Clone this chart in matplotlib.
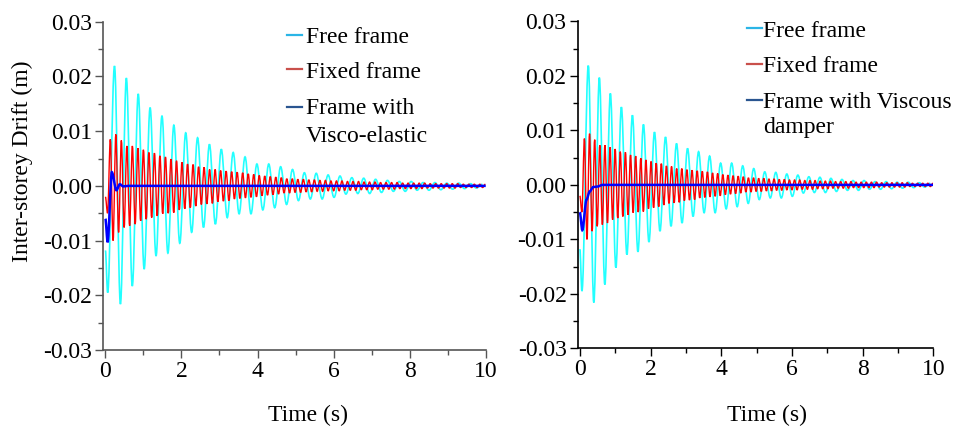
import numpy as np
import matplotlib.pyplot as plt
from matplotlib.path import Path
from matplotlib.patches import PathPatch
from matplotlib.ticker import MultipleLocator, FormatStrFormatter

plt.rcParams['font.family'] = ['Liberation Serif', 'DejaVu Serif']
plt.rcParams['font.size'] = 17
plt.rcParams['axes.unicode_minus'] = False

# ---- response extrema (s, m) ----
# free frame: lead-in samples, then alternating peaks / troughs
free_lead_t = [0.0, 0.06]
free_lead_v = [-0.0118, -0.0195]
free_t0, free_half = 0.24, 0.156
free_peaks = [0.0219, 0.0197, 0.0168, 0.0143, 0.0128, 0.0111, 0.0097, 0.0088,
              0.0076, 0.0067, 0.0061, 0.0053, 0.0040, 0.0040, 0.0035, 0.0030,
              0.0024, 0.0023, 0.0020, 0.0018, 0.0015, 0.0014, 0.0012, 0.0010,
              0.0008, 0.0008, 0.0006, 0.0006, 0.0005, 0.0005, 0.0004, 0.0003]
free_troughs = [-0.0216, -0.0183, -0.0152, -0.0128, -0.0123, -0.0105, -0.0085,
                -0.0076, -0.0070, -0.0058, -0.0051, -0.0051, -0.0044, -0.0040,
                -0.0034, -0.0027, -0.0024, -0.0024, -0.0021, -0.0015, -0.0014,
                -0.0014, -0.0012, -0.0010, -0.0010, -0.0008, -0.0008, -0.0007,
                -0.0006, -0.0005, -0.0004]

# fixed frame
fixed_lead_t = [0.0, 0.058]
fixed_lead_v = [-0.0020, -0.0050]
fixed_t0, fixed_half = 0.13, 0.0725
fixed_peaks = [0.0085, 0.0094, 0.0083, 0.0073, 0.0073, 0.0069, 0.0066, 0.0061,
               0.0060, 0.0055, 0.0053, 0.0049, 0.0046, 0.0043, 0.0040, 0.0039,
               0.0035, 0.0034, 0.0030, 0.0030, 0.0028, 0.0027, 0.0026, 0.0025,
               0.0024, 0.0022, 0.0021, 0.0019, 0.0018, 0.0017, 0.0016, 0.0015,
               0.0013,
               0.0013, 0.0012, 0.0012, 0.0011, 0.0011, 0.0010, 0.0010, 0.0009,
               0.0009, 0.0009, 0.0008, 0.0008, 0.0008, 0.0007, 0.0007, 0.0007,
               0.0006, 0.0006, 0.0006, 0.0006, 0.0005, 0.0005, 0.0005, 0.0005,
               0.0005, 0.0004, 0.0004, 0.0004, 0.0004, 0.0004, 0.0004, 0.0003,
               0.0003, 0.0003, 0.0003, 0.0003]
fixed_troughs = [-0.0100, -0.0085, -0.0076, -0.0073, -0.0070, -0.0064, -0.0061,
                 -0.0058, -0.0055, -0.0051, -0.0050, -0.0049, -0.0044, -0.0042,
                 -0.0040, -0.0037, -0.0034, -0.0033, -0.0032, -0.0029, -0.0028,
                 -0.0027, -0.0024, -0.0023, -0.0022, -0.0021, -0.0020, -0.0018,
                 -0.0017, -0.0016, -0.0015, -0.0013,
                 -0.0013, -0.0012, -0.0012, -0.0011, -0.0011, -0.0010, -0.0010,
                 -0.0009, -0.0009, -0.0009, -0.0008, -0.0008, -0.0008, -0.0007,
                 -0.0007, -0.0007, -0.0006, -0.0006, -0.0006, -0.0006, -0.0005,
                 -0.0005, -0.0005, -0.0005, -0.0005, -0.0004, -0.0004, -0.0004,
                 -0.0004, -0.0004, -0.0004, -0.0003, -0.0003, -0.0003, -0.0003,
                 -0.0003]

# damped frames
ve_t = [0.0, 0.06, 0.17, 0.29, 0.38, 0.47, 0.60, 10.0]
ve_v = [-0.0060, -0.0103, 0.0025, -0.0008, 0.0003, -0.0001, 0.0, 0.0]
visc_t = [0.0, 0.07, 0.19, 0.28, 0.38, 0.50, 0.64, 10.0]
visc_v = [-0.0050, -0.0083, -0.0027, -0.0012, -0.0004, -0.0003, 0.0, 0.0]

legend_colors = ['#2bb5e6', '#c9504b', '#2a5590']


def merge(lead_t, lead_v, t0, half, peaks, troughs):
    v = np.empty(len(peaks) + len(troughs))
    v[0::2] = peaks
    v[1::2] = troughs
    t = t0 + half * np.arange(len(v))
    return np.r_[lead_t, t], np.r_[lead_v, v]


def smooth_path(t, v, c=0.36):
    # cubic segments with flat tangents at every extremum
    verts = [(t[0], v[0])]
    codes = [Path.MOVETO]
    for i in range(1, len(t)):
        dt = t[i] - t[i - 1]
        verts += [(t[i - 1] + c * dt, v[i - 1]), (t[i] - c * dt, v[i]), (t[i], v[i])]
        codes += [Path.CURVE4] * 3
    return Path(verts, codes)


def key(ax, x0, x1, xt, hy, rows):
    # hand-placed legend: short line + label lines (baselines in axes coords)
    for col, y, lines in zip(legend_colors, hy, rows):
        ax.plot([x0, x1], [y, y], color=col, lw=1.6, transform=ax.transAxes,
                clip_on=False)
        for text, yb in lines:
            ax.text(xt, yb, text, transform=ax.transAxes, ha='left', va='baseline')


free_t, free_v = merge(free_lead_t, free_lead_v, free_t0, free_half, free_peaks, free_troughs)
fixed_t, fixed_v = merge(fixed_lead_t, fixed_lead_v, fixed_t0, fixed_half, fixed_peaks, fixed_troughs)

fig = plt.figure(figsize=(9.59, 4.30), dpi=100)
ax1 = fig.add_axes([0.1075, 0.186, 0.399, 0.7635])
ax2 = fig.add_axes([0.6024, 0.190, 0.3708, 0.760])

for ax, bt, bv, scol in [(ax1, ve_t, ve_v, '#555555'), (ax2, visc_t, visc_v, 'black')]:
    ax.add_patch(PathPatch(smooth_path(free_t, free_v), fill=False,
                           edgecolor='#22ffff', lw=1.2, zorder=2))
    ax.add_patch(PathPatch(smooth_path(fixed_t, fixed_v), fill=False,
                           edgecolor='#ff0000', lw=1.0, zorder=3))
    ax.add_patch(PathPatch(smooth_path(bt, bv, c=0.3), fill=False,
                           edgecolor='#0000ff', lw=1.8, zorder=4))

    ax.set_xlim(-0.06, 10)
    ax.set_ylim(-0.03, 0.03)
    ax.xaxis.set_major_locator(MultipleLocator(2))
    ax.xaxis.set_minor_locator(MultipleLocator(1))
    ax.yaxis.set_major_locator(MultipleLocator(0.01))
    ax.yaxis.set_minor_locator(MultipleLocator(0.005))
    ax.yaxis.set_major_formatter(FormatStrFormatter('%.2f'))
    ax.spines['top'].set_visible(False)
    ax.spines['right'].set_visible(False)
    for s in ('left', 'bottom'):
        ax.spines[s].set_color(scol)
        ax.spines[s].set_linewidth(1.2)
    ax.tick_params(which='both', direction='out', color=scol, width=1.0, pad=2)
    ax.tick_params(which='major', length=6)
    ax.tick_params(which='minor', length=3.5)
    ax.set_xlabel('Time (s)')
    ax.xaxis.label.set_va('center')

ax1.xaxis.set_label_coords(0.5355, -0.198)
ax2.xaxis.set_label_coords(0.5315, -0.204)
ax1.set_ylabel('Inter-storey Drift (m)')
ax1.yaxis.label.set_va('center')
ax1.yaxis.set_label_coords(-0.212, 0.576)

key(ax1, 0.4807, 0.5199, 0.5303, [0.9595, 0.855, 0.741],
    [[('Free frame', 0.934)], [('Fixed frame', 0.828)],
     [('Frame with', 0.7194), ('Visco-elastic', 0.6341)]])
key(ax2, 0.476, 0.518, 0.521, [0.979, 0.870, 0.7598],
    [[('Free frame', 0.9535)], [('Fixed frame', 0.8464)],
     [('Frame with Viscous', 0.7344), ('damper', 0.6588)]])

fig.savefig('out.png', dpi=100)
